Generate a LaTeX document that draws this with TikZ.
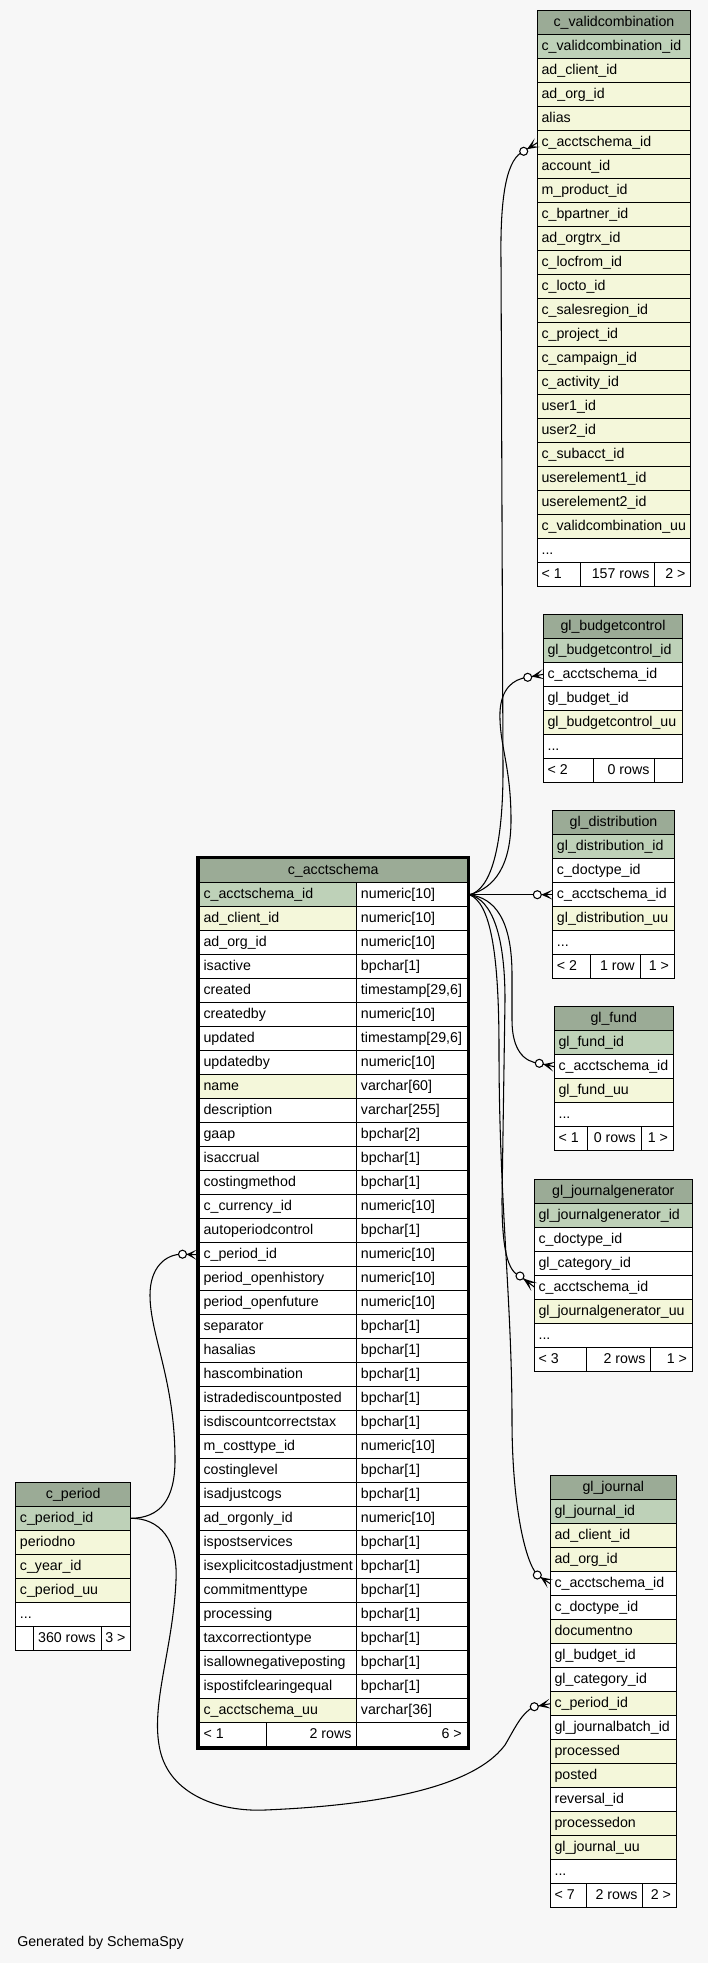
\documentclass[tikz,border=0pt]{standalone}
\usepackage{fontspec}
\setmainfont{Liberation Sans}
\usepackage{tikz}
\usetikzlibrary{calc}

\definecolor{hdrgreen}{HTML}{9BAB96}
\definecolor{pkgreen}{HTML}{BED1B8}
\definecolor{idxyellow}{HTML}{F4F7DA}
\definecolor{bggray}{HTML}{F7F7F7}
\newcommand{\tabfont}{\fontsize{10.65}{12}\selectfont}

% table: id, title, left, top, width, fields (name/fill), footer (split1/split2/left/middle/right)
\newcommand{\dbtable}[7]{%
  \fill[hdr] (#3,#4) rectangle +(#5,24);
  \node[cell, anchor=base] (#1-0) at (#3+#5/2,#4+16) {#2};
  \foreach [count=\k] \fld/\rowfill in {#6} {
    \fill[\rowfill] (#3,#4+24*\k) rectangle +(#5,24);
    \draw[grid] (#3,#4+24*\k) -- +(#5,0);
    \node[cell] (#1-\k) at (#3+4,#4+24*\k+16) {\fld};
    \coordinate (#1-\k-w) at (#3,#4+24*\k+12);
    \coordinate (#1-\k-e) at (#3+#5,#4+24*\k+12);
    \xdef\nfld{\k}
  }
  \foreach \splitA/\splitB/\pgA/\cntB/\pgC in {#7} {
    \pgfmathsetmacro{\dy}{#4+24*(\nfld+1)}
    \pgfmathsetmacro{\fy}{#4+24*(\nfld+2)}
    % dots row
    \fill[plain] (#3,\dy) rectangle +(#5,48);
    \draw[grid] (#3,\dy) -- +(#5,0);
    \node[cell] (#1-dots) at (#3+4,\dy+16) {...};
    % paging row
    \draw[grid] (#3,\fy) -- +(#5,0);
    \draw[grid] (\splitA,\fy) -- +(0,24) (\splitB,\fy) -- +(0,24);
    \node[cell] (#1-pl) at (#3+4,\fy+16) {\pgA};
    \node[cell, anchor=base east] (#1-rc) at (\splitB-5,\fy+16) {\cntB};
    \node[cell, anchor=base east] (#1-pr) at (#3+#5-5,\fy+16) {\pgC};
    \draw[grid] (#3,#4) rectangle (#3+#5,\fy+24);
  }
}

% crow's foot with open circle: table point, circle centre
\newcommand{\crowfoot}[2]{%
  \fill ($(#2)!3pt!(#1)$) -- ($(#1)!3.75pt!90:(#2)$) -- ($(#2)!0.6!(#1)$)
    -- ($(#1)!3.75pt!-90:(#2)$) -- cycle;
  \draw[rel] ($(#2)!3pt!(#1)$) -- (#1);
  \filldraw[rel, fill=white] (#2) circle (3pt);
}

\begin{document}
\begin{tikzpicture}[x=0.75pt, y=-0.75pt,
    cell/.style={anchor=base west, inner sep=0pt, font=\tabfont},
    grid/.style={draw=black, line width=0.75pt},
    rel/.style={draw=black, line width=0.8pt},
    hdr/.style={fill=hdrgreen},
    pk/.style={fill=pkgreen},
    idx/.style={fill=idxyellow},
    plain/.style={fill=white}]

  % Canvas
  \fill[bggray] (0,0) rectangle (708,1963);
  \useasboundingbox (0,0) rectangle (708,1963);

  % Referencing tables
  \dbtable{vc}{c\_validcombination}{537.3}{10.7}{153.4}{c\_validcombination\_id/pk,
    ad\_client\_id/idx, ad\_org\_id/idx, alias/idx, c\_acctschema\_id/idx,
    account\_id/idx, m\_product\_id/idx, c\_bpartner\_id/idx, ad\_orgtrx\_id/idx,
    c\_locfrom\_id/idx, c\_locto\_id/idx, c\_salesregion\_id/idx, c\_project\_id/idx,
    c\_campaign\_id/idx, c\_activity\_id/idx, user1\_id/idx, user2\_id/idx,
    c\_subacct\_id/idx, userelement1\_id/idx, userelement2\_id/idx,
    c\_validcombination\_uu/idx}{580/654.7/< 1/157 rows/2 >}

  \dbtable{bc}{gl\_budgetcontrol}{543.3}{614.3}{139.4}{gl\_budgetcontrol\_id/pk,
    c\_acctschema\_id/plain, gl\_budget\_id/plain,
    gl\_budgetcontrol\_uu/idx}{593.3/654.7/< 2/0 rows/}

  \dbtable{dist}{gl\_distribution}{552.7}{810.7}{121.6}{gl\_distribution\_id/pk,
    c\_doctype\_id/plain, c\_acctschema\_id/plain,
    gl\_distribution\_uu/idx}{590.7/640/< 2/1 row/1 >}

  \dbtable{fund}{gl\_fund}{554.3}{1006.7}{119}{gl\_fund\_id/pk,
    c\_acctschema\_id/plain, gl\_fund\_uu/idx}{587.7/641/< 1/0 rows/1 >}

  \dbtable{jg}{gl\_journalgenerator}{534.3}{1179}{158}{gl\_journalgenerator\_id/pk,
    c\_doctype\_id/plain, gl\_category\_id/plain, c\_acctschema\_id/plain,
    gl\_journalgenerator\_uu/idx}{586.7/650.7/< 3/2 rows/1 >}

  \dbtable{gj}{gl\_journal}{550.3}{1475.7}{126}{gl\_journal\_id/pk,
    ad\_client\_id/idx, ad\_org\_id/idx, c\_acctschema\_id/plain,
    c\_doctype\_id/plain, documentno/idx, gl\_budget\_id/plain,
    gl\_category\_id/plain, c\_period\_id/idx, gl\_journalbatch\_id/plain,
    processed/idx, posted/idx, reversal\_id/plain, processedon/idx,
    gl\_journal\_uu/idx}{586.7/642.7/< 7/2 rows/2 >}

  % Referenced table
  \dbtable{per}{c\_period}{15.7}{1482.3}{115}{c\_period\_id/pk,
    periodno/idx, c\_year\_id/idx, c\_period\_uu/idx}{33.3/101//360 rows/3 >}

  % c_acctschema (focus table, with column types)
  \fill[hdr] (199.3,858.7) rectangle (467,882.7);
  \node[cell, anchor=base] (acct-0) at (333.2,874.7) {c\_acctschema};
  \foreach [count=\k] \fld/\ftype/\rowfill in {
      c\_acctschema\_id/numeric[10]/pk, ad\_client\_id/numeric[10]/idx,
      ad\_org\_id/numeric[10]/plain, isactive/bpchar[1]/plain,
      created/{timestamp[29,6]}/plain, createdby/numeric[10]/plain,
      updated/{timestamp[29,6]}/plain, updatedby/numeric[10]/plain,
      name/varchar[60]/idx, description/varchar[255]/plain,
      gaap/bpchar[2]/plain, isaccrual/bpchar[1]/plain,
      costingmethod/bpchar[1]/plain, c\_currency\_id/numeric[10]/plain,
      autoperiodcontrol/bpchar[1]/plain, c\_period\_id/numeric[10]/plain,
      period\_openhistory/numeric[10]/plain, period\_openfuture/numeric[10]/plain,
      separator/bpchar[1]/plain, hasalias/bpchar[1]/plain,
      hascombination/bpchar[1]/plain, istradediscountposted/bpchar[1]/plain,
      isdiscountcorrectstax/bpchar[1]/plain, m\_costtype\_id/numeric[10]/plain,
      costinglevel/bpchar[1]/plain, isadjustcogs/bpchar[1]/plain,
      ad\_orgonly\_id/numeric[10]/plain, ispostservices/bpchar[1]/plain,
      isexplicitcostadjustment/bpchar[1]/plain, commitmenttype/bpchar[1]/plain,
      processing/bpchar[1]/plain, taxcorrectiontype/bpchar[1]/plain,
      isallownegativeposting/bpchar[1]/plain, ispostifclearingequal/bpchar[1]/plain,
      c\_acctschema\_uu/varchar[36]/idx} {
    \pgfmathsetmacro{\ry}{858.7+24*\k}
    \fill[plain] (199.3,\ry) rectangle +(267.7,24);
    \fill[\rowfill] (199.3,\ry) rectangle +(157.4,24);
    \draw[grid] (199.3,\ry) -- +(267.7,0);
    \node[cell] (acct-\k) at (203.3,\ry+16) {\fld};
    \node[cell] (acct-\k-t) at (360.7,\ry+16) {\ftype};
  }
  \fill[plain] (199.3,1722.7) rectangle (467,1746.7);
  \draw[grid] (199.3,1722.7) -- (467,1722.7);
  \draw[grid] (266,1722.7) -- (266,1746.7);
  \draw[grid] (356.7,882.7) -- (356.7,1746.7);
  \node[cell] (acct-pl) at (203.3,1738.7) {< 1};
  \node[cell, anchor=base east] (acct-rc) at (351.7,1738.7) {2 rows};
  \node[cell, anchor=base east] (acct-pr) at (462,1738.7) {6 >};
  \draw[grid] (199.3,858.7) rectangle (467,1746.7);
  \draw[line width=2pt] (197.8,857.2) rectangle (468.5,1748.2);
  \coordinate (acct-1-e) at (469.5,894.7);
  \coordinate (acct-16-w) at (196.5,1254.7);

  % Circle ends of the relations
  \coordinate (o1) at (523.7,151.3);
  \coordinate (o2) at (527.7,677.3);
  \coordinate (o3) at (537.3,894.7);
  \coordinate (o4) at (539.3,1063.3);
  \coordinate (o5) at (520,1276);
  \coordinate (o6) at (537.3,1575);
  \coordinate (o7) at (182.5,1254.2);
  \coordinate (o8) at (534.3,1706.7);

  % Relations
  \draw[rel] (acct-1-e) .. controls (490,890) and (503,850) .. (503,770)
    -- (501,260) .. controls (500,190) and (508,158) .. (o1);
  \draw[rel] (acct-1-e) .. controls (495,888) and (511,865) .. (511,820)
    .. controls (511,765) and (499,745) .. (500,712)
    .. controls (501,690) and (512,679) .. (o2);
  \draw[rel] (acct-1-e) -- (o3);
  \draw[rel] (acct-1-e) .. controls (495,898) and (512,920) .. (512,975)
    -- (512,1020) .. controls (512,1050) and (524,1062) .. (o4);
  \draw[rel] (acct-1-e) .. controls (492,900) and (505,935) .. (505,1000)
    -- (502,1200) .. controls (502,1250) and (508,1272) .. (o5);
  \draw[rel] (acct-1-e) .. controls (490,903) and (499,950) .. (499,1050)
    .. controls (499,1200) and (512,1300) .. (512,1420)
    .. controls (512,1500) and (524,1560) .. (o6);
  \draw[rel] (per-1-e) .. controls (160,1518) and (175,1500) .. (175,1460)
    .. controls (175,1380) and (150,1335) .. (150,1295)
    .. controls (150,1268) and (165,1254) .. (o7);
  \draw[rel] (per-1-e) .. controls (160,1518) and (178,1540) .. (176,1580)
    .. controls (173,1650) and (150,1705) .. (160,1750)
    .. controls (170,1795) and (220,1812) .. (265,1810)
    .. controls (360,1806) and (470,1792) .. (505,1745)
    .. controls (515,1728) and (522,1712) .. (o8);

  \crowfoot{vc-5-w}{o1}
  \crowfoot{bc-2-w}{o2}
  \crowfoot{dist-3-w}{o3}
  \crowfoot{fund-2-w}{o4}
  \crowfoot{jg-4-w}{o5}
  \crowfoot{gj-4-w}{o6}
  \crowfoot{acct-16-w}{o7}
  \crowfoot{gj-9-w}{o8}

  % Credit
  \node[cell] (credit) at (17,1946) {Generated by SchemaSpy};

\end{tikzpicture}
\end{document}
